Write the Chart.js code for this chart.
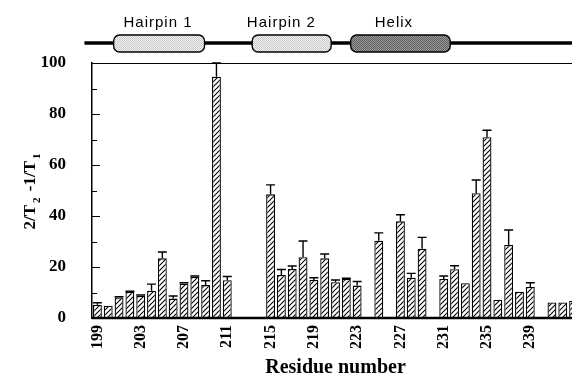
<!DOCTYPE html>
<html><head><meta charset="utf-8">
<script src="https://cdn.jsdelivr.net/npm/chart.js@4/dist/chart.umd.min.js"></script>
<style>
html,body{margin:0;padding:0;overflow:hidden;background:#fff;width:572px;height:376px}
#wrap{position:absolute;left:0;top:0;width:600px;height:376px}
</style>
</head><body><div id="wrap"><canvas id="c" width="600" height="376"></canvas></div>
<script>
const residues = ['199','200','201','202','203','204','205','206','207','208','209','210','211','212','213','214','215','216','217','218','219','220','221','222','223','224','225','226','227','228','229','230','231','232','233','234','235','236','237','238','239','240','241','242','243'];
const values = [5.2,4.8,8.1,10.2,8.7,10.7,23.4,7.6,13.5,16.2,12.9,94.6,14.8,null,null,null,48.5,16.9,19.2,23.8,14.9,23.4,14.0,15.3,12.7,null,30.3,null,37.9,15.8,27.2,null,15.3,19.1,13.6,48.9,70.9,7.2,28.6,10.3,12.2,null,6.1,6.1,6.8];
const errors = [0.8,0,0.3,0.3,0.3,2.6,2.5,1.0,0.3,0.3,1.7,5.4,1.5,0,0,0,3.7,2.1,1.2,6.4,0.9,1.7,0.9,0.3,1.6,0,3.1,0,2.6,1.7,4.4,0,1.2,1.4,0,5.2,2.7,0,5.9,0,1.6,0,0,0,0];
const xTickLabels = ['199','203','207','211','215','219','223','227','231','235','239'];
const yMajorTicks = [0,20,40,60,80,100];
const yMinorTicks = [10,30,50,70,90];
const segNames = ['Hairpin 1','Hairpin 2','Helix'];
const segStart = [200.5,213.3,222.4];
const segEnd = [208.9,220.6,231.6];
const segLabelAt = [204.6,216.0,226.4];
const segKind = ['light','light','dark'];
const lineStartResidue = 197.8;
const firstResidue = 199;

function makeHatch(){
  const s = 5, c = document.createElement('canvas'); c.width = s; c.height = s;
  const g = c.getContext('2d');
  g.fillStyle = '#fff'; g.fillRect(0,0,s,s);
  g.strokeStyle = '#000'; g.lineWidth = 1.1;
  g.beginPath();
  g.moveTo(0,s); g.lineTo(s,0);
  g.moveTo(-1,1); g.lineTo(1,-1);
  g.moveTo(s-1,s+1); g.lineTo(s+1,s-1);
  g.stroke();
  return g.createPattern(c,'repeat');
}
function makeStipple(a,b){
  const c = document.createElement('canvas'); c.width = 2; c.height = 2;
  const g = c.getContext('2d');
  g.fillStyle = a; g.fillRect(0,0,2,2);
  g.fillStyle = b; g.fillRect(0,0,1,1); g.fillRect(1,1,1,1);
  return g.createPattern(c,'repeat');
}
const ctx0 = document.getElementById('c').getContext('2d');
const hatch = makeHatch();
const lightFill = makeStipple('#f2f2f2','#c8c8c8');
const darkFill = makeStipple('#9a9a9a','#5e5e5e');

const serif = "'Liberation Serif','Times New Roman',serif";

const decor = {
  id:'decor',
  afterDatasetsDraw(chart){
    const ctx = chart.ctx, y = chart.scales.y, meta = chart.getDatasetMeta(0);
    ctx.save();
    ctx.strokeStyle = '#000'; ctx.lineWidth = 1.4;
    meta.data.forEach((bar,i)=>{
      if (values[i] == null || !errors[i]) return;
      const top = y.getPixelForValue(values[i]+errors[i]);
      ctx.beginPath();
      ctx.moveTo(bar.x, bar.y); ctx.lineTo(bar.x, top);
      ctx.moveTo(bar.x-4.5, top); ctx.lineTo(bar.x+4.5, top);
      ctx.stroke();
    });
    ctx.restore();
  },
  afterDraw(chart){
    const ctx = chart.ctx, a = chart.chartArea, y = chart.scales.y, x = chart.scales.x;
    ctx.save();
    ctx.strokeStyle = '#000'; ctx.lineWidth = 1.2;
    ctx.beginPath(); ctx.moveTo(a.left, a.top+0.5); ctx.lineTo(chart.width, a.top+0.5); ctx.stroke();
    ctx.lineWidth = 2.6;
    ctx.beginPath(); ctx.moveTo(a.left, a.bottom); ctx.lineTo(chart.width, a.bottom); ctx.stroke();
    ctx.lineWidth = 1.2;
    ctx.beginPath();
    yMajorTicks.forEach(v=>{ const p = Math.round(y.getPixelForValue(v))+0.5; ctx.moveTo(a.left, p); ctx.lineTo(a.left+8, p); });
    yMinorTicks.forEach(v=>{ const p = Math.round(y.getPixelForValue(v))+0.5; ctx.moveTo(a.left, p); ctx.lineTo(a.left+5, p); });
    ctx.stroke();
    // y title with subscripts
    ctx.save();
    ctx.translate(26, (a.top+a.bottom)/2);
    ctx.rotate(-Math.PI/2);
    ctx.fillStyle = '#000';
    const parts = [['2/T',17,0],['2',11,6],[' -1/T',17,0],['1',11,6]];
    let total = 0;
    parts.forEach(p=>{ ctx.font = 'bold '+p[1]+'px '+serif; total += ctx.measureText(p[0]).width + (p[1]<15?4:0); });
    let cx = -total/2;
    ctx.textBaseline = 'middle';
    parts.forEach(p=>{
      ctx.font = 'bold '+p[1]+'px '+serif;
      if (p[1]<15) cx += 2;
      ctx.fillText(p[0], cx, 5 + p[2]);
      cx += ctx.measureText(p[0]).width + (p[1]<15?2:0);
    });
    ctx.restore();
    // secondary-structure schematic
    const px = r => x.getPixelForValue(r - firstResidue);
    ctx.strokeStyle = '#000'; ctx.lineWidth = 3.5;
    ctx.beginPath(); ctx.moveTo(px(lineStartResidue), 43); ctx.lineTo(chart.width, 43); ctx.stroke();
    segNames.forEach((name,i)=>{
      const x0 = px(segStart[i]), x1 = px(segEnd[i]);
      ctx.beginPath();
      ctx.roundRect(x0, 35, x1-x0, 17, 6);
      ctx.fillStyle = segKind[i]==='dark' ? darkFill : lightFill;
      ctx.fill();
      ctx.lineWidth = 1.4; ctx.strokeStyle = '#000'; ctx.stroke();
      ctx.fillStyle = '#000';
      ctx.font = "15px 'Liberation Sans', Arial, sans-serif";
      try { ctx.letterSpacing = '1px'; } catch(e) {}
      ctx.textAlign = 'center'; ctx.textBaseline = 'alphabetic';
      ctx.fillText(name, px(segLabelAt[i]), 27);
      try { ctx.letterSpacing = '0px'; } catch(e) {}
    });
    ctx.restore();
  }
};

new Chart(ctx0, {
  type:'bar',
  data:{ labels: residues, datasets:[{ data: values, backgroundColor: hatch, borderColor:'#000', borderWidth:1.3, barPercentage:0.82, categoryPercentage:1 }]},
  options:{
    responsive:false, animation:false, devicePixelRatio:1,
    layout:{ padding:{ top:63, right:21, left:0, bottom:0 } },
    plugins:{ legend:{display:false}, tooltip:{enabled:false} },
    scales:{
      x:{
        grid:{display:false}, border:{display:false},
        ticks:{ autoSkip:false, minRotation:90, maxRotation:90, padding:-1, color:'#000',
          font:{family:serif, size:16, weight:'bold'},
          callback:(v,i)=> xTickLabels.includes(residues[i]) ? residues[i] : '' },
        title:{ display:true, text:'Residue number', color:'#000', font:{family:serif, size:20, weight:'bold', lineHeight:1}, padding:{top:0,bottom:-2} },
        afterFit:(s)=>{ s.height = 58; }
      },
      y:{
        min:0, max:100,
        grid:{display:false}, border:{display:true, color:'#000', width:1.5},
        ticks:{ stepSize:20, padding:18, color:'#000', font:{family:serif, size:17, weight:'bold'} },
        afterFit:(s)=>{ s.width = 92; }
      }
    }
  },
  plugins:[decor]
});
</script>
</body></html>
